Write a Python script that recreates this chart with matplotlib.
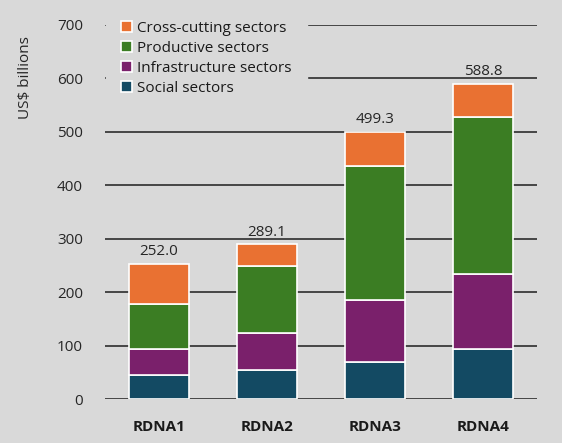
import matplotlib.pyplot as plt
import numpy as np

plt.rcParams['font.family'] = ['Open Sans', 'DejaVu Sans']

# replenishment rounds and sector allocations (US$ billions)
rounds = ["RDNA1", "RDNA2", "RDNA3", "RDNA4"]
social = [44, 54, 70, 93]
infrastructure = [50, 70, 116, 141]
productive = [83, 124, 249, 293]
totals = [252.0, 289.1, 499.3, 588.8]
cross_cutting = [t - s - i - p for t, s, i, p in zip(totals, social, infrastructure, productive)]

sectors = ["Social sectors", "Infrastructure sectors", "Productive sectors", "Cross-cutting sectors"]
colors = ["#134a63", "#7a206b", "#3b7d23", "#e97132"]

bg = "#d9d9d9"
fs = 11
fig = plt.figure(figsize=(5.62, 4.43), dpi=100, facecolor=bg)
ax = fig.add_axes([0.187, 0.0993, 0.7685, 0.845], facecolor=bg)

x = np.arange(len(rounds))
bottom = np.zeros(len(rounds))
handles = []
for name, vals, c in zip(sectors, [social, infrastructure, productive, cross_cutting], colors):
    b = ax.bar(x, vals, width=0.56, bottom=bottom, color=c, edgecolor="white",
               linewidth=1.2, label=name, zorder=3)
    handles.append(b)
    bottom += np.array(vals)

for xi, t in zip(x, totals):
    ax.text(xi, t + 9, f"{t:.1f}", ha="center", va="bottom", fontsize=fs, color="#262626")

ax.set_xlim(-0.5, 3.5)
ax.set_ylim(0, 700)
ax.set_yticks(range(0, 701, 100))
ax.set_xticks(x)
ax.set_xticklabels(rounds, fontweight="bold", fontsize=fs, color="#1a1a1a")
ax.tick_params(axis="y", length=0, labelsize=fs, labelcolor="#262626", pad=16)
ax.tick_params(axis="x", length=0, pad=15)
ax.grid(axis="y", color="#3a3a3a", linewidth=1.3, zorder=0)
for s in ax.spines.values():
    s.set_visible(False)

fig.text(0.046, 0.824, "US$ billions", rotation=90, ha="center", va="center",
         fontsize=fs, color="#262626")

leg = ax.legend(handles[::-1], sectors[::-1], loc="upper left", bbox_to_anchor=(-0.016, 1.072),
                frameon=True, facecolor=bg, edgecolor=bg, framealpha=1, fontsize=fs,
                handlelength=0.72, handleheight=0.72, handletextpad=0.35,
                labelspacing=0.34, borderpad=1.0)
leg.set_zorder(5)
leg.set_clip_on(False)
for t in leg.get_texts():
    t.set_color("#1a1a1a")

fig.savefig("out.png", dpi=100, facecolor=bg)
